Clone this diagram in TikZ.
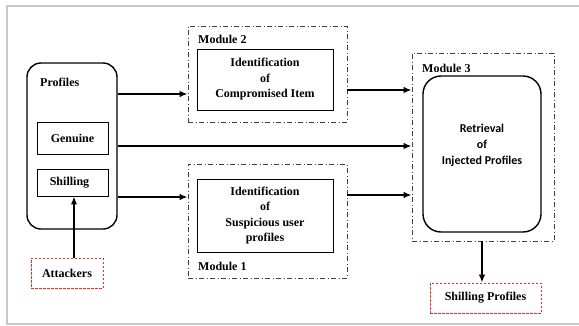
\documentclass[tikz,border=0pt]{standalone}
\usepackage{fontspec}
\setmainfont{Liberation Serif}
\newfontfamily\calib{Carlito}
\usetikzlibrary{arrows.meta,calc}
\begin{document}
\begin{tikzpicture}[x=1pt,y=-1pt,
  every node/.style={font=\fontsize{12}{15.5}\selectfont\bfseries},
  bigbox/.style={draw,line width=1.4pt,rounded corners=14pt,inner sep=0pt},
  inbox/.style={draw,line width=0.9pt,inner sep=0pt,align=center},
  modbox/.style={draw=black!75,line width=0.8pt,dash pattern=on 5pt off 2.5pt on 1pt off 2.5pt,inner sep=0pt},
  redbox/.style={draw=red!85,line width=0.7pt,dash pattern=on 2.5pt off 1.5pt,inner sep=0pt},
  lbl/.style={anchor=west,inner sep=0pt},
  arr/.style={line width=1.7pt,-{Latex[length=8pt,width=6.5pt]}}]
\useasboundingbox (0,0) rectangle (579,325);
% frame
\draw[black!22,line width=2pt] (579,6) -- (7,6) -- (7,323.5) -- (579,323.5);
% profiles
\node[bigbox,minimum width=90pt,minimum height=166pt] (prof) at (72,146) {};
\node[lbl] (proflbl) at (40,82) {Profiles};
\node[inbox,minimum width=71pt,minimum height=32pt] (gen) at (72.5,138) {Genuine};
\node[inbox,minimum width=71pt,minimum height=27pt] (shill) at (72.5,182.5) {\hspace*{-6pt}Shilling};
\node[redbox,minimum width=72pt,minimum height=30pt] (att) at (67,273) {Attackers};
% module 2
\node[modbox,minimum width=159pt,minimum height=96pt] (m2) at (267.5,74) {};
\node[lbl] (m2lbl) at (198,39) {Module 2};
\node[inbox,minimum width=136pt,minimum height=61pt] (m2in) at (265,79.5) {Identification\\of\\Compromised Item};
% module 1
\node[modbox,minimum width=159pt,minimum height=114pt] (m1) at (267.5,221) {};
\node[lbl] (m1lbl) at (198,266) {Module 1};
\node[inbox,minimum width=136pt,minimum height=73pt] (m1in) at (265,215.5) {Identification\\of\\Suspicious user\\profiles};
% module 3
\node[modbox,minimum width=142pt,minimum height=188pt] (m3) at (483,147) {};
\node[lbl] (m3lbl) at (422,68) {Module 3};
\node[bigbox,rounded corners=18pt,minimum width=118pt,minimum height=156pt] (m3in) at (482,154) {};
\node[align=center,inner sep=0pt,font=\calib\fontsize{12}{16}\selectfont\bfseries] (m3txt) at (482,145) {Retrieval\\of\\Injected Profiles};
% output
\node[redbox,minimum width=111pt,minimum height=30pt] (sp) at (485.5,298) {Shilling Profiles};
% arrows
\coordinate (shb) at ([xshift=1.5pt]shill.south);
\coordinate (m3b) at ([xshift=-1pt]m3.south);
\draw[arr] ([yshift=52pt]prof.east) -- ([yshift=52pt]prof.east -| m2.west);
\draw[arr] ([yshift=-16pt]m2.east) -- ([yshift=-16pt]m2.east -| m3.west);
\draw[arr] (prof.east) -- (prof.east -| m3.west);
\draw[arr] ([yshift=-51pt]prof.east) -- ([yshift=-51pt]prof.east -| m1.west);
\draw[arr] ([yshift=26pt]m1.east) -- ([yshift=26pt]m1.east -| m3.west);
\draw[arr] (att.north -| shb) -- (shb);
\draw[arr] (m3b) -- (m3b |- sp.north);
\end{tikzpicture}
\end{document}
